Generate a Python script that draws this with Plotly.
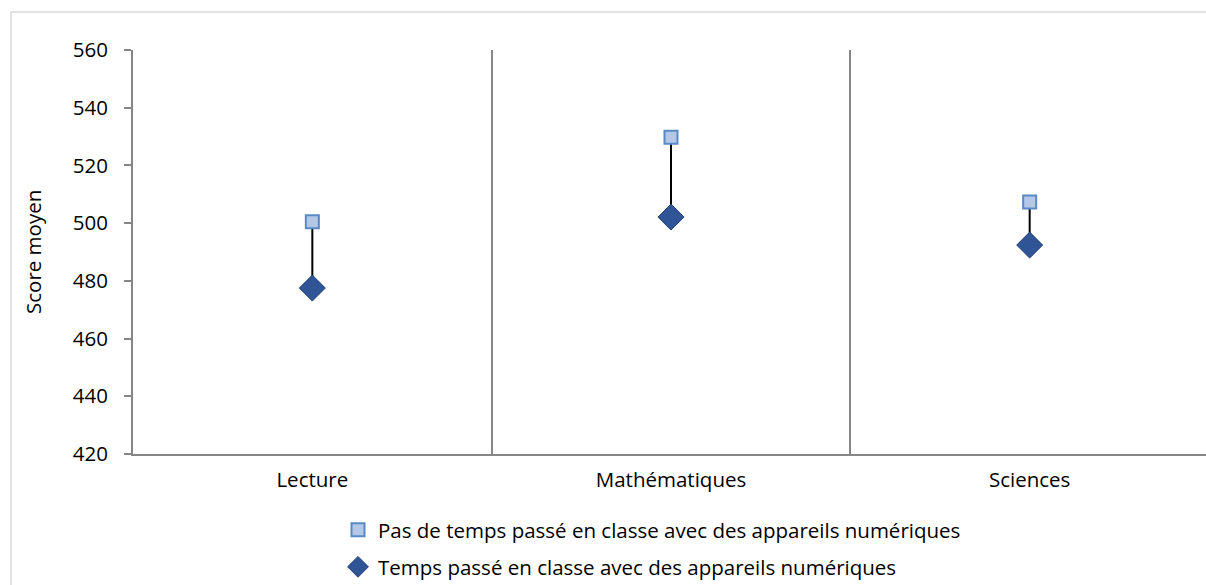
import plotly.graph_objects as go

categories = ["Lecture", "Mathématiques", "Sciences"]
no_time = [500.5, 529.8, 507.3]
with_time = [477.5, 502.1, 492.4]
name_no = "Pas de temps passé en classe avec des appareils numériques"
name_with = "Temps passé en classe avec des appareils numériques"
y_ticks = [420, 440, 460, 480, 500, 520, 540, 560]

FONT = "Open Sans"
FS = 20.5
GRAY = "#868686"
L, T, PW, PH = 133, 50, 1076, 404
W, H = L + PW, 585

lx, ly = [], []
for c, a, b in zip(categories, no_time, with_time):
    lx += [c, c, None]
    ly += [a, b, None]

fig = go.Figure()
fig.add_trace(go.Scatter(x=lx, y=ly, mode="lines", line=dict(color="black", width=2),
                         showlegend=False, hoverinfo="skip"))
fig.add_trace(go.Scatter(x=categories, y=no_time, mode="markers", name=name_no,
                         marker=dict(symbol="square", size=13, color="#B4C7E7",
                                     line=dict(color="#5A8AC6", width=2)),
                         legend="legend"))
fig.add_trace(go.Scatter(x=categories, y=with_time, mode="markers", name=name_with,
                         marker=dict(symbol="diamond", size=20, color="#2F5597",
                                     line=dict(color="#223F74", width=1)),
                         legend="legend2"))

fig.add_shape(type="rect", xref="paper", yref="paper", x0=(11 - L) / PW, x1=1.05, y0=-0.5,
              y1=(T + PH - 12) / PH, line=dict(color="#D9D9D9", width=1.5), layer="below")

fig.add_annotation(text="Score moyen", xref="paper", yref="paper", x=(33 - L) / PW, y=0.5,
                   xanchor="center", yanchor="middle", textangle=-90, showarrow=False,
                   font=dict(family=FONT, size=FS, color="#000000"))

legend_common = dict(orientation="v", xanchor="left", yanchor="middle", xref="container", yref="container",
                     font=dict(family=FONT, size=FS, color="#000000"), bgcolor="rgba(0,0,0,0)",
                     itemwidth=30)

fig.update_layout(
    width=W, height=H,
    margin=dict(l=L, r=0, t=T, b=H - T - PH, autoexpand=False),
    paper_bgcolor="white", plot_bgcolor="white",
    font=dict(family=FONT, size=FS, color="#000000"),
    xaxis=dict(type="category", categoryorder="array", categoryarray=categories,
               range=[-0.5, 2.5], tickson="boundaries", showgrid=True, gridcolor=GRAY, gridwidth=1.5,
               showline=True, linecolor=GRAY, linewidth=2, ticks="", ticklabelstandoff=6,
               tickangle=0, tickfont=dict(family=FONT, size=FS), zeroline=False, automargin=False),
    yaxis=dict(range=[420, 560], tickvals=y_ticks, showgrid=False, showline=True, linecolor=GRAY,
               linewidth=2, ticks="outside", ticklen=7, tickcolor=GRAY, tickwidth=1.5,
               ticklabelstandoff=12, tickfont=dict(family=FONT, size=FS), zeroline=False, automargin=False),
    legend=dict(x=338 / W, y=1 - 530 / H, **legend_common),
    legend2=dict(x=338 / W, y=1 - 567 / H, **legend_common),
    showlegend=True,
)

fig.write_html("out.html", config={"displayModeBar": False},
               post_script="document.body.style.margin='0';document.body.style.overflow='hidden';")
